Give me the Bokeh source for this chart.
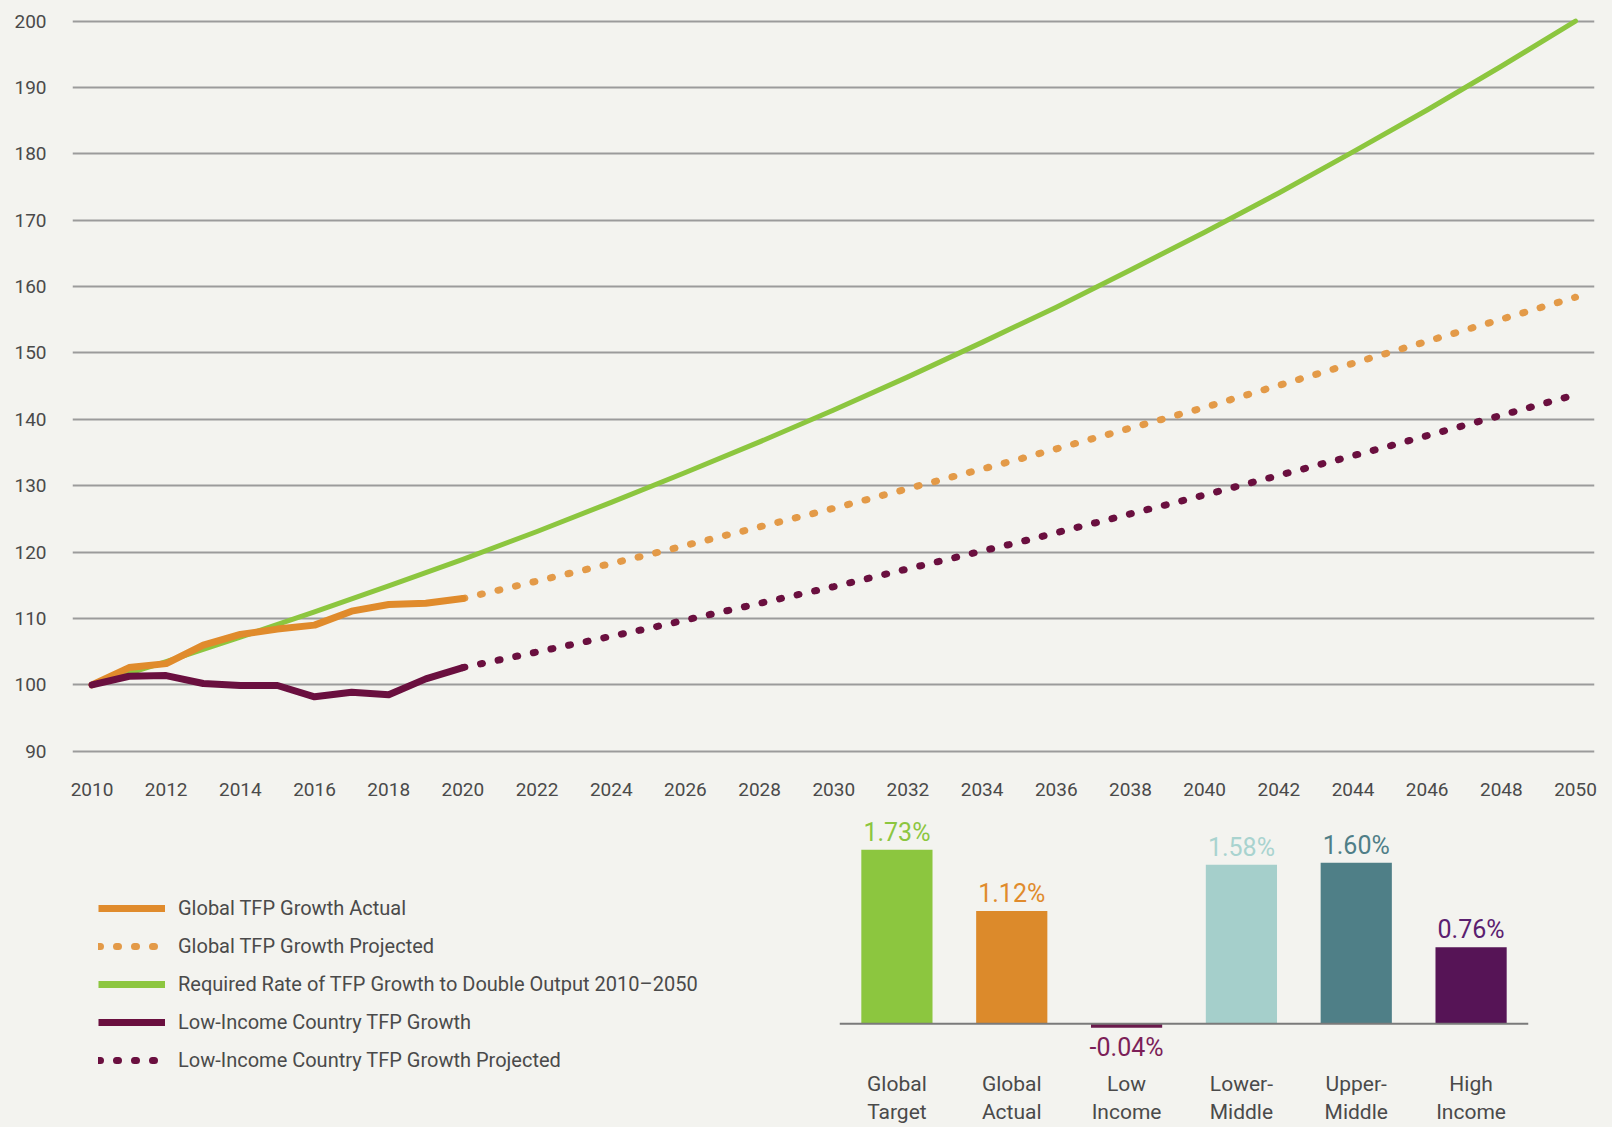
from bokeh.plotting import figure
from bokeh.layouts import column, row
from bokeh.models import (Range1d, FixedTicker, Legend, LegendItem, Span,
                          ColumnDataSource, FactorRange)
from bokeh.core.properties import value
from bokeh.embed import file_html
from bokeh.resources import INLINE

# ---------------- data ----------------
years_actual = [2010, 2011, 2012, 2013, 2014, 2015, 2016, 2017, 2018, 2019, 2020]
global_actual = [100.0, 102.6, 103.2, 106.0, 107.6, 108.4, 109.0, 111.1, 112.1, 112.3, 113.0]
low_income_actual = [100.0, 101.3, 101.4, 100.2, 99.9, 99.9, 98.2, 98.9, 98.5, 100.9, 102.6]

years_proj = [2020, 2025, 2030, 2035, 2040, 2045, 2050]
global_proj = [113.0, 119.6, 126.6, 134.0, 141.8, 150.1, 158.4]
low_income_proj = [102.6, 108.5, 114.8, 121.5, 128.6, 136.0, 143.7]

years_required = [2010, 2012, 2014, 2016, 2018, 2020, 2022, 2024, 2026, 2028, 2030,
                  2032, 2034, 2036, 2038, 2040, 2042, 2044, 2046, 2048, 2050]
required = [100.0, 103.5, 107.2, 111.0, 114.9, 118.9, 123.1, 127.5, 132.0, 136.6, 141.4,
            146.4, 151.6, 156.9, 162.5, 168.2, 174.1, 180.3, 186.6, 193.2, 200.0]

x_ticks = [2010, 2012, 2014, 2016, 2018, 2020, 2022, 2024, 2026, 2028, 2030,
           2032, 2034, 2036, 2038, 2040, 2042, 2044, 2046, 2048, 2050]
y_ticks = [90, 100, 110, 120, 130, 140, 150, 160, 170, 180, 190, 200]

legend_labels = ["Global TFP Growth Actual",
                 "Global TFP Growth Projected",
                 "Required Rate of TFP Growth to Double Output 2010\u20132050",
                 "Low-Income Country TFP Growth",
                 "Low-Income Country TFP Growth Projected"]

bar_categories = ["Global\nTarget", "Global\nActual", "Low\nIncome",
                  "Lower-\nMiddle", "Upper-\nMiddle", "High\nIncome"]
bar_rates = [1.73, 1.12, -0.04, 1.58, 1.60, 0.76]
bar_rate_labels = ["1.73%", "1.12%", "-0.04%", "1.58%", "1.60%", "0.76%"]

# ---------------- style ----------------
FONT = "Roboto"
BG = "#f3f3ef"
GREEN = "#8cc63f"
ORANGE = "#e08b2c"
ORANGE_DOT = "#e39a48"
MAROON = "#6a0f3f"
TEXT = "#4a4a4a"
bar_colors = ["#8cc63f", "#dc8a2b", "#6a1a4c", "#a5cfcb", "#4f7f87", "#561456"]
label_colors = ["#8cc63f", "#e08b2c", "#7c1f58", "#a9d3cf", "#4f7e87", "#5b2070"]

# ---------------- main line chart ----------------
p = figure(width=1612, height=800,
           x_range=Range1d(2009.474, 2050.512), y_range=Range1d(88, 201.9),
           output_backend="svg", toolbar_location=None,
           min_border_left=72, min_border_right=18, min_border_top=8, min_border_bottom=36,
           background_fill_color=BG, border_fill_color=BG, outline_line_color=None)

p.xaxis.ticker = FixedTicker(ticks=x_ticks)
p.yaxis.ticker = FixedTicker(ticks=y_ticks)
for ax in (p.xaxis, p.yaxis):
    ax.axis_line_color = None
    ax.major_tick_line_color = None
    ax.minor_tick_line_color = None
    ax.major_label_text_font = FONT
    ax.major_label_text_font_size = "19px"
    ax.major_label_text_color = TEXT
p.xaxis.major_label_standoff = 12
p.yaxis.major_label_standoff = 20
p.xgrid.grid_line_color = None
p.ygrid.grid_line_color = "#9b9b9b"
p.ygrid.grid_line_width = 2

p.line(years_required, required, line_color=GREEN, line_width=5, line_cap="round", line_join="round")
p.line(years_proj, global_proj, line_color=ORANGE_DOT, line_width=7, line_dash="2 16", line_cap="round")
p.line(years_proj, low_income_proj, line_color=MAROON, line_width=7, line_dash="2 16", line_cap="round")
p.line(years_actual, global_actual, line_color=ORANGE, line_width=7, line_cap="round", line_join="round")
p.line(years_actual, low_income_actual, line_color=MAROON, line_width=7, line_cap="round", line_join="round")

# ---------------- legend panel ----------------
leg = figure(width=830, height=327, x_range=Range1d(0, 1), y_range=Range1d(0, 1),
             x_axis_type=None, y_axis_type=None,
             output_backend="svg", toolbar_location=None,
             min_border_left=96, min_border_top=10, min_border_right=0, min_border_bottom=40,
             background_fill_color=BG, border_fill_color=BG, outline_line_color=None)
leg.grid.visible = False
# legend sample renderers: their points lie outside the visible range, so only the legend shows them
off_x = [-10, -9]
off_y = [-10, -9]
r1 = leg.line(off_x, off_y, line_color=ORANGE, line_width=7)
r2 = leg.line(off_x, off_y, line_color=ORANGE_DOT, line_width=7, line_dash="2 16", line_cap="round")
r3 = leg.line(off_x, off_y, line_color=GREEN, line_width=7)
r4 = leg.line(off_x, off_y, line_color=MAROON, line_width=7)
r5 = leg.line(off_x, off_y, line_color=MAROON, line_width=7, line_dash="2 16", line_cap="round")
legend = Legend(items=[LegendItem(label=lab, renderers=[r])
                       for lab, r in zip(legend_labels, [r1, r2, r3, r4, r5])],
                location=(2, 1), padding=0, margin=0, spacing=14,
                glyph_width=67, glyph_height=20, label_height=20, label_standoff=13,
                label_text_font=FONT, label_text_font_size="20px", label_text_color=TEXT,
                border_line_color=None, background_fill_alpha=0)
leg.add_layout(legend)

# ---------------- bar panel ----------------
bar = figure(width=782, height=327,
             x_range=FactorRange(factors=bar_categories), y_range=Range1d(-0.495, 2.119),
             y_axis_type=None,
             output_backend="svg", toolbar_location=None,
             min_border_left=9, min_border_right=84, min_border_top=10, min_border_bottom=40,
             background_fill_color=BG, border_fill_color=BG, outline_line_color=None)
bar.xgrid.grid_line_color = None
bar.xaxis.axis_line_color = None
bar.xaxis.major_tick_line_color = None
bar.xaxis.minor_tick_line_color = None
bar.xaxis.major_label_text_font = FONT
bar.xaxis.major_label_text_font_size = "21px"
bar.xaxis.major_label_text_color = TEXT
bar.xaxis.major_label_standoff = -8

src = ColumnDataSource(dict(cat=bar_categories, rate=bar_rates, color=bar_colors))
bar.vbar(x="cat", top="rate", bottom=0, width=0.62, fill_color="color", line_color=None, source=src)
bar.add_layout(Span(location=0, dimension="width", line_color="#7a7a7a", line_width=2))

pos = [i for i, v in enumerate(bar_rates) if v >= 0]
neg = [i for i, v in enumerate(bar_rates) if v < 0]
pos_src = ColumnDataSource(dict(cat=[bar_categories[i] for i in pos], rate=[bar_rates[i] for i in pos],
                                lab=[bar_rate_labels[i] for i in pos], col=[label_colors[i] for i in pos]))
neg_src = ColumnDataSource(dict(cat=[bar_categories[i] for i in neg], rate=[bar_rates[i] for i in neg],
                                lab=[bar_rate_labels[i] for i in neg], col=[label_colors[i] for i in neg]))
bar.text(x="cat", y="rate", text="lab", text_color="col", source=pos_src,
         text_align="center", text_baseline="bottom", y_offset=-3,
         text_font=value(FONT), text_font_size="25px")
bar.text(x="cat", y="rate", text="lab", text_color="col", source=neg_src,
         text_align="center", text_baseline="top", y_offset=5,
         text_font=value(FONT), text_font_size="25px")

bottom = row(leg, bar, spacing=0, styles={"background-color": BG})
layout = column(p, bottom, spacing=0, styles={"background-color": BG})
open("out.html", "w").write(file_html(layout, INLINE))
